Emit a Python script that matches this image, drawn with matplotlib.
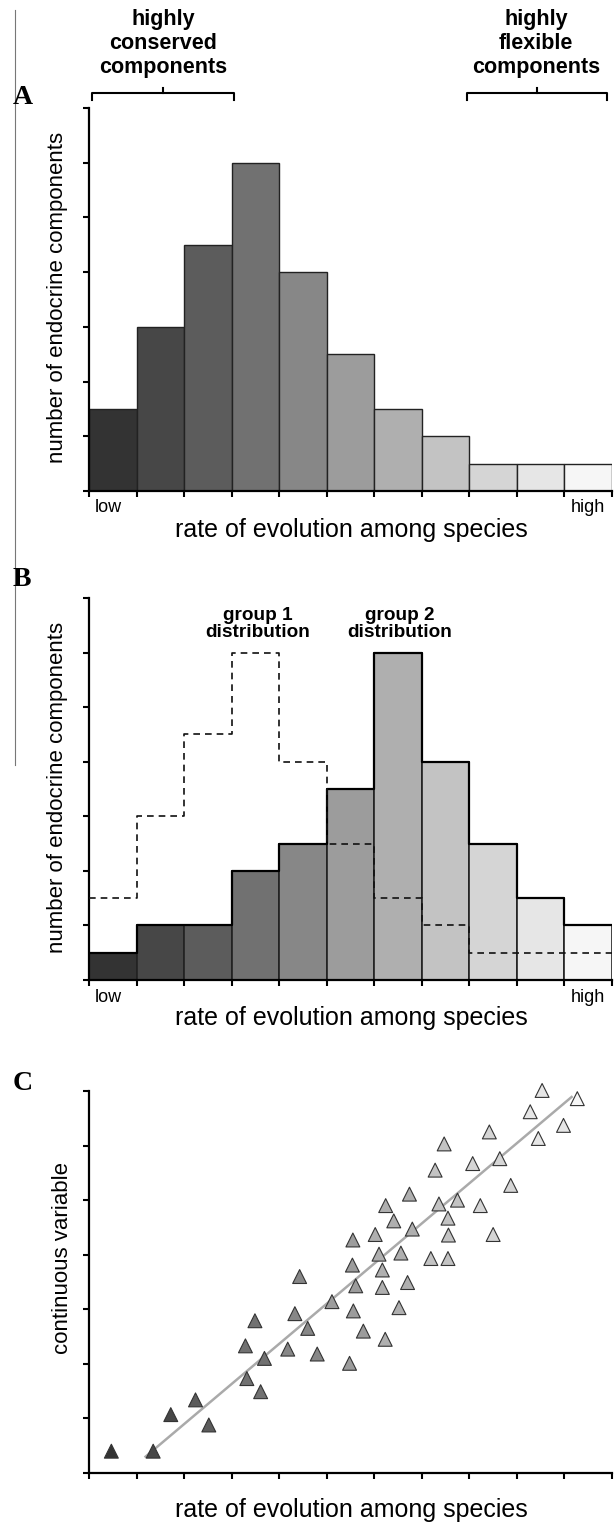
import numpy as np
import matplotlib.pyplot as plt
from matplotlib.lines import Line2D

plt.rcParams['font.family'] = ['Liberation Sans', 'DejaVu Sans']

# bins of the rate of evolution (low -> high)
bins = np.arange(11)
grays = ['#333333', '#474747', '#5c5c5c', '#717171', '#878787', '#9c9c9c',
         '#afafaf', '#c3c3c3', '#d5d5d5', '#e6e6e6', '#f6f6f6']

counts_a = [1.5, 3, 4.5, 6, 4, 2.5, 1.5, 1, 0.5, 0.5, 0.5]
group1 = [1.5, 3, 4.5, 6, 4, 2.5, 1.5, 1, 0.5, 0.5, 0.5]
group2 = [0.5, 1, 1, 2, 2.5, 3.5, 6, 4, 2.5, 1.5, 1]

# bracket spans (in bin units) over panel A
conserved_span = [0.06, 3.05]
flexible_span = [7.96, 10.89]

# panel C scatter
rate_x = [0.47, 1.35, 1.72, 2.24, 2.52, 3.29, 3.32, 3.49, 3.61, 3.69, 4.18, 4.33,
          4.43, 4.60, 4.80, 5.11, 5.48, 5.54, 5.56, 5.61, 5.77, 6.10, 6.17, 6.17,
          6.23, 6.52, 6.56, 6.70, 7.19, 7.55,
          9.53, 10.27, 9.28, 9.98, 8.42, 9.45, 7.47, 8.07, 8.64, 7.28, 8.87, 6.74,
          6.24, 7.36, 7.75, 8.23, 6.41, 7.55, 6.02, 6.80, 5.55, 7.56, 8.50]
cont_y = [0.40, 0.40, 1.07, 1.34, 0.88, 2.33, 1.73, 2.79, 1.49, 2.10, 2.27, 2.92,
          3.60, 2.65, 2.18, 3.14, 2.01, 3.81, 2.97, 3.43, 2.60, 4.01, 3.72, 3.40,
          2.45, 3.03, 4.03, 3.49, 3.93, 3.93,
          7.01, 6.86, 6.62, 6.37, 6.25, 6.13, 6.03, 5.67, 5.76, 5.55, 5.27, 5.11,
          4.90, 4.93, 5.00, 4.90, 4.62, 4.67, 4.37, 4.47, 4.27, 4.36, 4.37]
trend_x = [1.19, 10.15]
trend_y = [0.30, 6.89]

W, H = 616, 1523


def fx(px):
    return px / W


def fy(py):
    return 1 - py / H


def setup(ax):
    ax.set_xlim(0, 11)
    ax.set_ylim(0, 7)
    for s in ['top', 'right']:
        ax.spines[s].set_visible(False)
    for s in ['left', 'bottom']:
        ax.spines[s].set_linewidth(1.6)
    ax.set_xticks(range(12))
    ax.set_yticks(range(8))
    ax.tick_params(length=4, width=1.5, direction='out',
                   labelbottom=False, labelleft=False)


fig = plt.figure(figsize=(W / 100, H / 100), dpi=100)

axA = fig.add_axes([fx(89), fy(491), fx(612) - fx(89), (491 - 108) / H])
axB = fig.add_axes([fx(89), fy(980), fx(612) - fx(89), (980 - 598) / H])
axC = fig.add_axes([fx(89), fy(1473), fx(612) - fx(89), (1473 - 1091) / H])
for ax in (axA, axB, axC):
    setup(ax)

# panel A
axA.bar(bins, counts_a, width=1, align='edge', color=grays,
        edgecolor='#222222', linewidth=1.0, zorder=2)

def bracket(ax, span):
    x0, x1 = span
    xm = (x0 + x1) / 2
    ax.plot([x0, x0, x1, x1], [7.15, 7.27, 7.27, 7.15], color='k', lw=1.5,
            clip_on=False)
    ax.plot([xm, xm], [7.27, 7.37], color='k', lw=1.5, clip_on=False)

bracket(axA, conserved_span)
bracket(axA, flexible_span)

# panel B
edges = np.arange(12)
axB.bar(bins, group2, width=1, align='edge', color=grays,
        edgecolor='#222222', linewidth=1.2, zorder=2)
axB.step(edges, group2 + [group2[-1]], where='post', color='k', lw=1.6, zorder=3)
axB.step(edges, group1 + [group1[-1]], where='post', color='#111111', lw=1.2,
         ls=(0, (4, 3)), zorder=4)

# panel C
pt_col = [grays[min(int(v), 10)] for v in rate_x]
axC.plot(trend_x, trend_y, color='#aaaaaa', lw=1.8, zorder=2)
axC.scatter(rate_x, cont_y, marker='^', s=100, c=pt_col, edgecolors='#333333',
            linewidths=0.8, zorder=3, clip_on=False)

# texts
for lab, y in [('A', 98), ('B', 579), ('C', 1083)]:
    fig.text(fx(13), fy(y), lab, family='Liberation Serif', fontsize=20,
             fontweight='bold', ha='left', va='center')

fig.text(fx(163), fy(43.5), 'highly\nconserved\ncomponents', fontsize=15.5,
         fontweight='bold', ha='center', va='center', linespacing=1.17)
fig.text(fx(536), fy(43.5), 'highly\nflexible\ncomponents', fontsize=15.5,
         fontweight='bold', ha='center', va='center', linespacing=1.17)
fig.text(fx(258), fy(624), 'group 1\ndistribution', fontsize=13.7,
         fontweight='bold', ha='center', va='center', linespacing=1.02)
fig.text(fx(400), fy(624), 'group 2\ndistribution', fontsize=13.7,
         fontweight='bold', ha='center', va='center', linespacing=1.02)

fig.text(fx(58), fy(297), 'number of endocrine components', fontsize=16,
         rotation=90, ha='center', va='center')
fig.text(fx(58), fy(787), 'number of endocrine components', fontsize=16,
         rotation=90, ha='center', va='center')
fig.text(fx(63), fy(1258), 'continuous variable', fontsize=16,
         rotation=90, ha='center', va='center')

for y in (530, 1018, 1510):
    fig.text(fx(351), fy(y), 'rate of evolution among species', fontsize=18,
             ha='center', va='center')
for y in (508, 998):
    fig.text(fx(95), fy(y), 'low', fontsize=13, ha='left', va='center')
    fig.text(fx(605), fy(y), 'high', fontsize=13, ha='right', va='center')

fig.add_artist(Line2D([fx(15), fx(15)], [fy(10), fy(765)], color='#777777',
                      lw=0.8, transform=fig.transFigure))

fig.savefig('out.png', dpi=100)
